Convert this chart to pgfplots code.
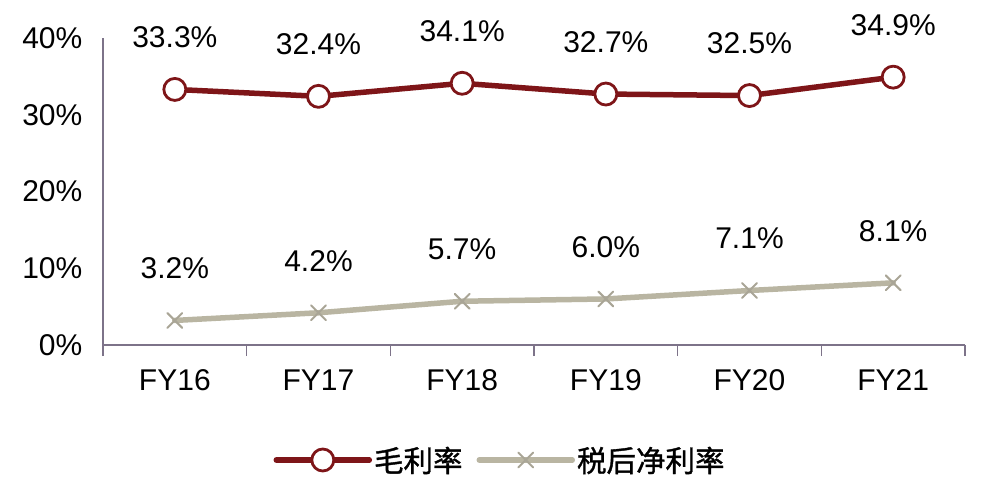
\documentclass[border=0pt]{standalone}
\usepackage{pgfplots}
\pgfplotsset{compat=1.18}
\usepackage{fontspec}
\setmainfont{Liberation Sans}
\newfontfamily\cjk[FakeBold=1.2]{Noto Sans CJK SC}
\definecolor{cred}{HTML}{7E1518}
\definecolor{cgray}{HTML}{B9B5A2}
\definecolor{cgrayx}{HTML}{A9A596}
\definecolor{caxis}{HTML}{7D7389}
\begin{document}
\begin{tikzpicture}
\path[use as bounding box] (-103bp,-145bp) rectangle (889bp,345bp);
\begin{axis}[
  at={(0,0)}, anchor=south west,
  scale only axis, width=862bp, height=307bp,
  xmin=-0.5, xmax=5.5, ymin=0, ymax=40,
  axis x line=bottom, axis y line=left,
  axis line style={-, draw=caxis, line width=1.2bp},
  xtick={0,1,2,3,4,5},
  xticklabels={FY16,FY17,FY18,FY19,FY20,FY21},
  minor xtick={-0.5,0.5,1.5,2.5,3.5,4.5,5.5},
  major x tick style={draw=none},
  minor x tick style={draw=caxis, line width=1.2bp},
  minor tick length=11bp,
  xtick align=outside,
  ytick={0,10,20,30,40},
  yticklabels={0\%,10\%,20\%,30\%,40\%},
  ytick style={draw=none},
  tick label style={font=\fontsize{30bp}{34bp}\selectfont, text=black},
  xticklabel style={yshift=-17bp},
  yticklabel style={xshift=-15bp},
  /pgf/number format/assume math mode=true,
  nodes near coords={\pgfmathprintnumber[fixed,precision=1,fixed zerofill]{\pgfplotspointmeta}\%},
  every node near coord/.append style={font=\fontsize{30bp}{34bp}\selectfont, text=black, anchor=center, yshift=52bp},
  clip=false,
  legend columns=2,
  legend style={draw=none, fill=none, at={(0.4606,-0.3746)}, anchor=center,
    font=\cjk\fontsize{29.5bp}{34bp}\selectfont,
    /tikz/every even column/.append style={column sep=12bp},
    inner sep=0pt},
  legend image code/.code={
    \draw[#1, mark=none] (0bp,0bp) -- (93bp,0bp);
    \draw[#1] plot coordinates {(46.5bp,0bp)};
  },
]
\addplot[draw=cred, line width=5.5bp, line join=round, line cap=round,
  mark=*, mark size=11bp,
  mark options={fill=white, draw=cred, line width=2.8bp}]
  coordinates {(0,33.3) (1,32.4) (2,34.1) (3,32.7) (4,32.5) (5,34.9)};
\addlegendentry{毛利率}
\addplot[draw=cgray, line width=5.5bp, line join=round, line cap=round,
  mark=x, mark size=10.5bp,
  mark options={draw=cgrayx, line width=2bp}]
  coordinates {(0,3.2) (1,4.2) (2,5.7) (3,6.0) (4,7.1) (5,8.1)};
\addlegendentry{税后净利率}
\end{axis}
\end{tikzpicture}
\end{document}
